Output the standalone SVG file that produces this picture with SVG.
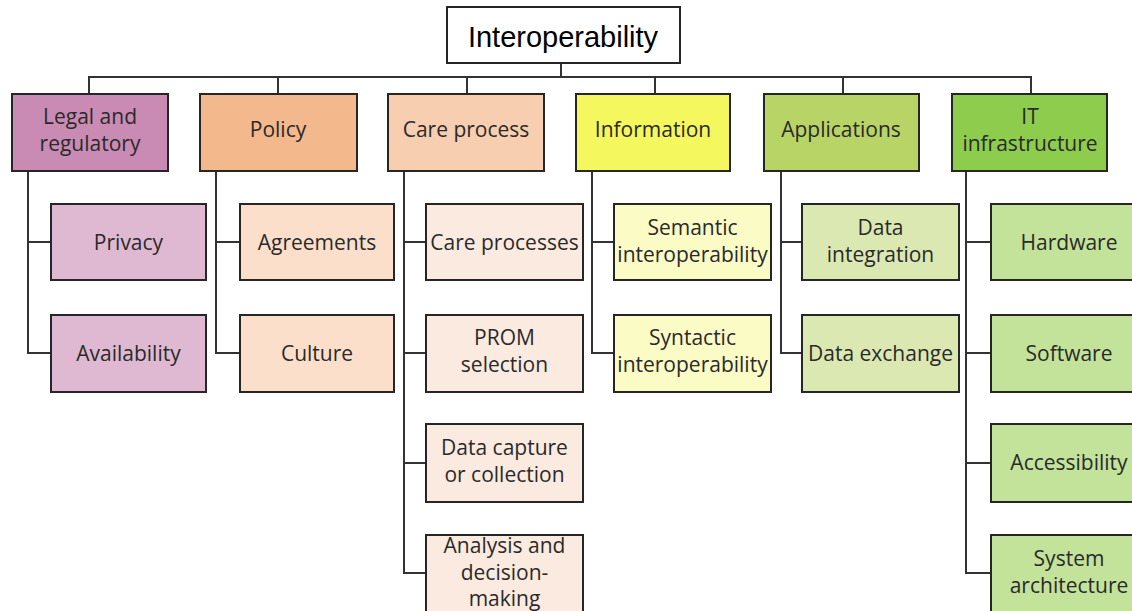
<svg xmlns="http://www.w3.org/2000/svg" width="1132" height="611" viewBox="0 0 1132 611">
<style>
.box{stroke:#262626;stroke-width:2}
.t{font-family:"Open Sans","Noto Sans",sans-serif;font-size:21px;fill:#2a2a2a;text-anchor:middle}
.root{font-family:"Liberation Sans",Arial,sans-serif;font-size:29px;fill:#000;text-anchor:middle}
.c{fill:none;stroke:#333;stroke-width:2}
</style>
<rect width="1132" height="611" fill="#fff"/>
<g id="connectors">
<path class="c" d="M561 63V77M89 94V77H1031V94M278 77V94M467 77V94M655 77V94M843 77V94"/>
<path class="c" d="M28 171V353H51M28 242H51"/>
<path class="c" d="M216 171V353H240M216 242H240"/>
<path class="c" d="M404 171V573H426M404 242H426M404 353H426M404 463H426"/>
<path class="c" d="M592 171V353H614M592 242H614"/>
<path class="c" d="M781 171V353H802M781 242H802"/>
<path class="c" d="M966 171V573H991M966 242H991M966 353H991M966 463H991"/>
</g>
<g id="root"><rect class="box" x="447" y="7" width="233" height="56" fill="#fff"/><text class="root" x="563" y="47">Interoperability</text></g>
<g id="legal"><rect class="box" x="12" y="94" width="156" height="77" fill="#C98BB4"/><text class="t" x="90" y="124">Legal and<tspan x="90" dy="26.5">regulatory</tspan></text></g>
<g id="policy"><rect class="box" x="200" y="94" width="157" height="77" fill="#F3B88C"/><text class="t" x="278" y="137">Policy</text></g>
<g id="care"><rect class="box" x="388" y="94" width="156" height="77" fill="#F7CEAF"/><text class="t" x="466" y="137">Care process</text></g>
<g id="information"><rect class="box" x="576" y="94" width="154" height="77" fill="#F4F75E"/><text class="t" x="653" y="137">Information</text></g>
<g id="applications"><rect class="box" x="764" y="94" width="155" height="77" fill="#B9D466"/><text class="t" x="841" y="137">Applications</text></g>
<g id="it"><rect class="box" x="952" y="94" width="155" height="77" fill="#8ECC4E"/><text class="t" x="1030" y="124">IT<tspan x="1030" dy="26.5">infrastructure</tspan></text></g>

<g id="privacy"><rect class="box" x="51" y="204" width="155" height="76" fill="#DFB9D2"/><text class="t" x="128.5" y="250">Privacy</text></g>
<g id="availability"><rect class="box" x="51" y="315" width="155" height="77" fill="#DFB9D2"/><text class="t" x="128.5" y="361">Availability</text></g>
<g id="agreements"><rect class="box" x="240" y="204" width="154" height="76" fill="#FBDFCB"/><text class="t" x="317" y="250">Agreements</text></g>
<g id="culture"><rect class="box" x="240" y="315" width="154" height="77" fill="#FBDFCB"/><text class="t" x="317" y="361">Culture</text></g>
<g id="careprocesses"><rect class="box" x="426" y="204" width="157" height="76" fill="#FBEAE0"/><text class="t" x="504.5" y="250">Care processes</text></g>
<g id="prom"><rect class="box" x="426" y="315" width="157" height="77" fill="#FBEAE0"/><text class="t" x="504.5" y="345">PROM<tspan x="504.5" dy="26.5">selection</tspan></text></g>
<g id="datacapture"><rect class="box" x="426" y="424" width="157" height="78" fill="#FBEAE0"/><text class="t" x="504.5" y="455">Data capture<tspan x="504.5" dy="26.5">or collection</tspan></text></g>
<g id="analysis"><rect class="box" x="426" y="535" width="157" height="78" fill="#FBEAE0"/><text class="t" x="504.5" y="553">Analysis and<tspan x="504.5" dy="26.5">decision-</tspan><tspan x="504.5" dy="26.5">making</tspan></text></g>
<g id="semantic"><rect class="box" x="614" y="204" width="157" height="76" fill="#FBFBC6"/><text class="t" x="692.5" y="235">Semantic<tspan x="692.5" dy="26.5">interoperability</tspan></text></g>
<g id="syntactic"><rect class="box" x="614" y="315" width="157" height="77" fill="#FBFBC6"/><text class="t" x="692.5" y="345">Syntactic<tspan x="692.5" dy="26.5">interoperability</tspan></text></g>
<g id="dataintegration"><rect class="box" x="802" y="204" width="157" height="76" fill="#DCE8B2"/><text class="t" x="880.5" y="235">Data<tspan x="880.5" dy="26.5">integration</tspan></text></g>
<g id="dataexchange"><rect class="box" x="802" y="315" width="157" height="77" fill="#DCE8B2"/><text class="t" x="880.5" y="361">Data exchange</text></g>
<g id="hardware"><rect class="box" x="991" y="204" width="156" height="76" fill="#C3E29A"/><text class="t" x="1069" y="250">Hardware</text></g>
<g id="software"><rect class="box" x="991" y="315" width="156" height="77" fill="#C3E29A"/><text class="t" x="1069" y="361">Software</text></g>
<g id="accessibility"><rect class="box" x="991" y="424" width="156" height="78" fill="#C3E29A"/><text class="t" x="1069" y="470">Accessibility</text></g>
<g id="systemarch"><rect class="box" x="991" y="535" width="156" height="78" fill="#C3E29A"/><text class="t" x="1069" y="566">System<tspan x="1069" dy="26.5">architecture</tspan></text></g>
</svg>
